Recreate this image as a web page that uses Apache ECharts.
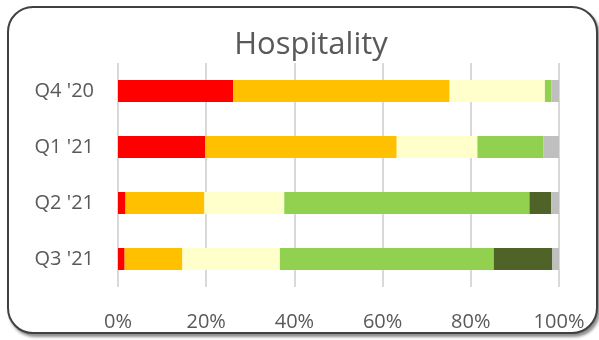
<!DOCTYPE html>
<html>
<head>
<meta charset="utf-8">
<script src="https://cdn.jsdelivr.net/npm/echarts@6/dist/echarts.min.js"></script>
<style>
html,body{margin:0;padding:0;background:#fff;}
#wrap{position:relative;width:599px;height:340px;overflow:hidden;}
#frame{position:absolute;left:7px;top:6px;width:587px;height:324px;border:2px solid #404040;border-radius:26px;box-shadow:2px 3px 3px rgba(0,0,0,0.45);background:#fff;}
#main{position:absolute;left:0;top:0;width:599px;height:340px;}
</style>
</head>
<body>
<div id="wrap">
  <div id="frame"></div>
  <div id="main"></div>
</div>
<script>
var quarters = ["Q4 '20", "Q1 '21", "Q2 '21", "Q3 '21"];
var redVals = [26.1, 19.8, 1.7, 1.5];
var orangeVals = [49.1, 43.4, 17.9, 13.1];
var paleVals = [21.6, 18.3, 18.1, 22.1];
var greenVals = [1.5, 15.0, 55.6, 48.5];
var darkVals = [0, 0, 4.9, 13.3];
var greyVals = [1.7, 3.5, 1.8, 1.5];
var tickLabels = ['0%', '20%', '40%', '60%', '80%', '100%'];

var seriesList = [
    {name: 'red', data: redVals, color: '#ff0000'},
    {name: 'orange', data: orangeVals, color: '#ffc000'},
    {name: 'pale', data: paleVals, color: '#ffffcc'},
    {name: 'green', data: greenVals, color: '#92d050'},
    {name: 'dark', data: darkVals, color: '#4f6228'},
    {name: 'grey', data: greyVals, color: '#bfbfbf'}
];

var myChart = echarts.init(document.getElementById('main'));
var option = {
    animation: false,
    title: {
        text: 'Hospitality',
        top: 25,
        left: 306,
        textAlign: 'center',
        textStyle: {fontFamily: 'Open Sans', fontSize: 31, fontWeight: 'normal', color: '#595959'}
    },
    grid: {left: 118, right: 40, top: 63, bottom: 53, containLabel: false},
    xAxis: {
        type: 'value',
        min: 0,
        max: 100,
        interval: 20,
        axisLine: {show: false},
        axisTick: {show: false},
        splitLine: {lineStyle: {color: '#d9d9d9', width: 2}},
        axisLabel: {
            margin: 25,
            fontFamily: 'Open Sans',
            fontSize: 20,
            color: '#595959',
            formatter: function (v) { return tickLabels[v / 20]; }
        }
    },
    yAxis: {
        type: 'category',
        inverse: true,
        data: quarters,
        axisLine: {show: false},
        axisTick: {show: false},
        axisLabel: {margin: 24, fontFamily: 'Open Sans', fontSize: 20, color: '#595959'}
    },
    series: seriesList.map(function (s) {
        return {
            name: s.name,
            type: 'bar',
            stack: 'total',
            barWidth: 22,
            data: s.data,
            itemStyle: {color: s.color}
        };
    })
};
myChart.setOption(option);
</script>
</body>
</html>
